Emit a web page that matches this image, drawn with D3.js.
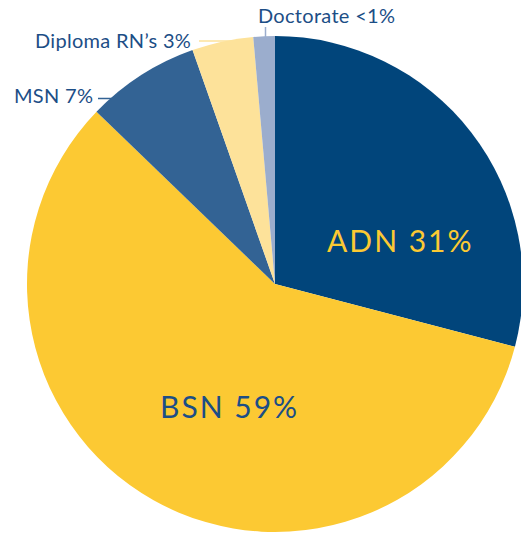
<!DOCTYPE html>
<html>
<head>
<meta charset="utf-8">
<script src="https://cdn.jsdelivr.net/npm/d3@7"></script>
<style>
  body { margin: 0; background: #fff; }
  svg { display: block; font-family: Lato, "Open Sans", sans-serif; }
</style>
</head>
<body>
<div id="chart"></div>
<script>
// degree types and their share
var categories = ["ADN", "BSN", "MSN", "Diploma RN\u2019s", "Doctorate"]
var shares = [29.1, 58.2, 7.4, 4.0, 1.4]
var labels = ["ADN 31%", "BSN 59%", "MSN 7%", "Diploma RN\u2019s 3%", "Doctorate <1%"]
var colors = ["#01457b", "#fcc933", "#336394", "#fde29a", "#9badcd"]

var width = 521, height = 535
var cx = 275, cy = 284, radius = 248

var svg = d3.select("#chart")
  .append("svg")
  .attr("width", width)
  .attr("height", height)

var g = svg.append("g")
  .attr("transform", "translate(" + cx + "," + cy + ")")

var data = categories.map(function (c, i) {
  return { key: c, value: shares[i], label: labels[i] }
})

var color = d3.scaleOrdinal()
  .domain(categories)
  .range(colors)

var pie = d3.pie()
  .sort(null)
  .value(function (d) { return d.value })

var arcs = pie(data)

var arc = d3.arc()
  .innerRadius(0)
  .outerRadius(radius)

g.selectAll("path.slice")
  .data(arcs)
  .enter()
  .append("path")
  .attr("class", "slice")
  .attr("d", arc)
  .attr("fill", function (d) { return color(d.data.key) })

// big labels inside the two main slices
var inside = { "ADN": { pos: [52, -32], fill: "#fcc933" }, "BSN": { pos: [-115, 134], fill: "#1c4e86" } }
g.selectAll("text.big")
  .data(arcs.filter(function (d) { return inside[d.data.key] }))
  .enter()
  .append("text")
  .attr("class", "big")
  .attr("x", function (d) { return inside[d.data.key].pos[0] })
  .attr("y", function (d) { return inside[d.data.key].pos[1] })
  .attr("font-size", 30)
  .attr("letter-spacing", 2)
  .attr("fill", function (d) { return inside[d.data.key].fill })
  .text(function (d) { return d.data.label })

// small outside labels with leader lines
var outside = {
  "MSN": { text: [14, 103], line: [[98, 98.5], [112, 98.5]], stroke: "#336394" },
  "Diploma RN\u2019s": { text: [35, 48], line: [[199, 41], [250, 41]], stroke: "#fde29a" },
  "Doctorate": { text: [258, 23], line: [[265.5, 27], [265.5, 38]], stroke: "#9badcd" }
}
var small = arcs.filter(function (d) { return outside[d.data.key] })

svg.selectAll("line.leader")
  .data(small)
  .enter()
  .append("line")
  .attr("class", "leader")
  .attr("x1", function (d) { return outside[d.data.key].line[0][0] })
  .attr("y1", function (d) { return outside[d.data.key].line[0][1] })
  .attr("x2", function (d) { return outside[d.data.key].line[1][0] })
  .attr("y2", function (d) { return outside[d.data.key].line[1][1] })
  .attr("stroke", function (d) { return outside[d.data.key].stroke })
  .attr("stroke-width", 1.5)

svg.selectAll("text.small")
  .data(small)
  .enter()
  .append("text")
  .attr("class", "small")
  .attr("x", function (d) { return outside[d.data.key].text[0] })
  .attr("y", function (d) { return outside[d.data.key].text[1] })
  .attr("font-size", 20)
  .attr("letter-spacing", 0.3)
  .attr("fill", "#1c4e86")
  .text(function (d) { return d.data.label })
</script>
</body>
</html>
